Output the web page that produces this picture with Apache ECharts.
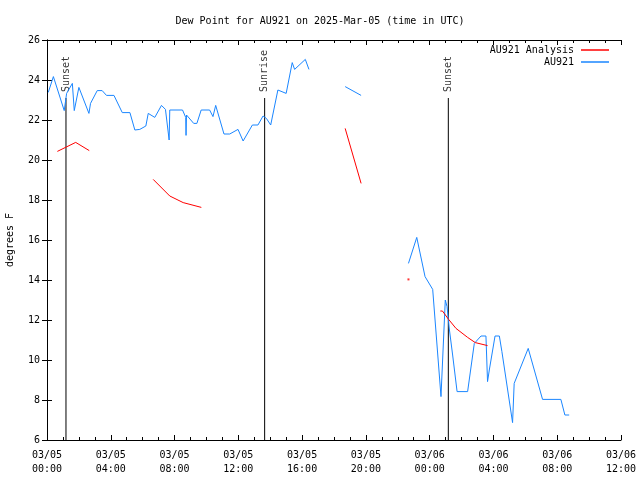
<!DOCTYPE html>
<html>
<head>
<meta charset="utf-8">
<script src="https://cdn.jsdelivr.net/npm/echarts@6/dist/echarts.min.js"></script>
<style>html,body{margin:0;padding:0;background:#fff}#c{width:640px;height:480px}</style>
</head>
<body>
<div id="c"></div>
<script>
// hours since 2025-03-05 00:00 UTC, dew point (F); null y = gap
var au921Hours = [0.08,0.4,1.08,1.23,1.59,1.71,2.0,2.63,2.73,3.15,3.46,3.73,4.2,4.72,5.2,5.51,5.82,6.2,6.35,6.76,7.18,7.43,7.66,7.7,8.5,8.7,8.72,8.75,9.2,9.4,9.67,10.2,10.41,10.58,11.1,11.46,11.98,12.3,12.88,13.23,13.55,13.76,14.03,14.48,15.0,15.38,15.53,16.2,16.43,
  17.5,
  18.7,19.7,
  21.0,
  22.67,23.19,23.71,24.19,24.3,24.71,24.82,24.98,25.09,25.24,25.44,25.72,26.38,26.8,27.22,27.53,27.63,27.74,28.1,28.37,28.53,29.2,29.3,30.18,31.08,32.23,32.48,32.75];
var au921Values = [23.38,24.17,22.47,23.33,23.83,22.47,23.63,22.33,22.83,23.47,23.47,23.23,23.23,22.37,22.37,21.5,21.53,21.7,22.33,22.13,22.73,22.53,21.0,22.5,22.5,22.13,21.23,22.25,21.83,21.83,22.5,22.5,22.17,22.73,21.3,21.3,21.53,20.95,21.75,21.75,22.2,22.08,21.75,23.5,23.33,24.87,24.53,25.03,24.53,
  null,
  23.67,23.23,
  null,
  14.83,16.13,14.17,13.53,13.53,8.17,8.17,13.0,12.67,11.5,10.25,8.42,8.42,10.83,11.2,11.2,8.92,9.5,11.2,11.2,10.42,6.87,8.83,10.58,8.03,8.03,7.25,7.25];

var analysisHours = [0.65,1.8,2.65, 4.5, 6.66,7.7,8.54,9.68, 14.0, 18.7,19.7, 22.0, 24.67,24.8,25.19,25.65,26.38,26.86,27.22,27.63];
var analysisValues = [20.43,20.88,20.47, null, 19.03,18.2,17.87,17.63, null, 21.58,18.83, null, 12.45,12.45,12.03,11.58,11.13,10.87,10.8,10.72];
var analysisDotHours = [22.67];
var analysisDotValues = [14.03];

var sunNames = ['Sunset','Sunrise','Sunset'];
var sunHours = [1.19,13.65,25.17];
var sunLineBottom = 6, sunLineTop = 23.1, sunLabelAt = 23.4;

var xTickHours = [0,4,8,12,16,20,24,28,32,36];
var yTicks = [6,8,10,12,14,16,18,20,22,24,26];

function pairs(xs, ys){ var out=[]; for(var i=0;i<xs.length;i++){ out.push([xs[i], ys[i]===null?'-':ys[i]]); } return out; }
function pad(n){ return (n<10?'0':'')+n; }
function xLabel(h){ var d = 5 + Math.floor(h/24); var hh = h%24; return '03/'+pad(d)+'\n'+pad(hh)+':00'; }

var mono = 'DejaVu Sans Mono';
var sunLines = [];
for (var i=0;i<sunHours.length;i++){
  sunLines.push({
    type:'line', silent:true, showSymbol:false, symbol:'none',
    data:[[sunHours[i],sunLineBottom],[sunHours[i],sunLineTop]],
    lineStyle:{color:'#000',width:1}, z:1
  });
}
var sunLabelData = [];
for (var j=0;j<sunHours.length;j++){ sunLabelData.push({value:[sunHours[j],sunLabelAt], name:sunNames[j]}); }

var chart = echarts.init(document.getElementById('c'), null, {renderer:'canvas'});
chart.setOption({
  animation:false,
  backgroundColor:'#fff',
  title:{text:'Dew Point for AU921 on 2025-Mar-05 (time in UTC)', left:'center', top:11,
    textStyle:{fontFamily:mono, fontSize:10, fontWeight:'normal', color:'#000'}},
  legend:{
    data:[{name:'AU921 Analysis', icon:'rect'},{name:'AU921', icon:'rect'}],
    orient:'vertical', right:26, top:40, align:'right', itemWidth:28, itemHeight:1.5, itemGap:2,
    textStyle:{fontFamily:mono, fontSize:10, color:'#000', padding:[0,2,0,0]},
    selectedMode:false
  },
  grid:{left:47, right:19, top:40, bottom:40, containLabel:false, outerBoundsMode:'none'},
  xAxis:[{
    type:'value', min:xTickHours[0], max:xTickHours[xTickHours.length-1], interval:4,
    axisLine:{show:true, lineStyle:{color:'#000', width:1}},
    axisTick:{show:true, inside:true, length:5, lineStyle:{color:'#000'}},
    minorTick:{show:true, splitNumber:4, length:3, lineStyle:{color:'#000'}},
    splitLine:{show:false},
    axisLabel:{fontFamily:mono, fontSize:10, color:'#000', margin:8, lineHeight:14, formatter:function(v){return xLabel(v);}}
  },{
    type:'value', position:'top', min:xTickHours[0], max:xTickHours[xTickHours.length-1], interval:4,
    axisLine:{show:true, lineStyle:{color:'#000', width:1}},
    axisTick:{show:true, inside:true, length:5, lineStyle:{color:'#000'}},
    minorTick:{show:true, splitNumber:4, length:3, lineStyle:{color:'#000'}},
    splitLine:{show:false}, axisLabel:{show:false}
  }],
  yAxis:[{
    type:'value', min:yTicks[0], max:yTicks[yTicks.length-1], interval:2,
    name:'degrees F', nameLocation:'middle', nameRotate:90, nameGap:32,
    nameTextStyle:{fontFamily:mono, fontSize:10, color:'#000'},
    axisLine:{show:true, lineStyle:{color:'#000', width:1}},
    axisTick:{show:true, inside:true, length:5, lineStyle:{color:'#000'}},
    splitLine:{show:false},
    axisLabel:{fontFamily:mono, fontSize:10, color:'#000', margin:7}
  },{
    type:'value', position:'right', min:yTicks[0], max:yTicks[yTicks.length-1], interval:2,
    axisLine:{show:true, lineStyle:{color:'#000', width:1}},
    axisTick:{show:true, inside:true, length:5, lineStyle:{color:'#000'}},
    splitLine:{show:false}, axisLabel:{show:false}
  }],
  series: sunLines.concat([
    {type:'scatter', silent:true, symbolSize:0, data:sunLabelData, z:3,
     label:{show:true, position:'inside', rotate:90, align:'left', verticalAlign:'middle',
       fontFamily:mono, fontSize:10, color:'#000', formatter:function(p){return p.name;}}},
    {name:'AU921', type:'line', showSymbol:false, symbol:'none', connectNulls:false,
     data:pairs(au921Hours, au921Values), color:'#1a86ff', lineStyle:{color:'#1a86ff', width:1}, z:4},
    {name:'AU921 Analysis', type:'line', showSymbol:false, symbol:'none', connectNulls:false,
     data:pairs(analysisHours, analysisValues), color:'#ff0000', lineStyle:{color:'#ff0000', width:1}, z:5},
    {name:'AU921 Analysis dot', type:'scatter', symbol:'rect', symbolSize:2,
     data:pairs(analysisDotHours, analysisDotValues), itemStyle:{color:'#ff0000'}, z:5}
  ])
});
</script>
</body>
</html>
